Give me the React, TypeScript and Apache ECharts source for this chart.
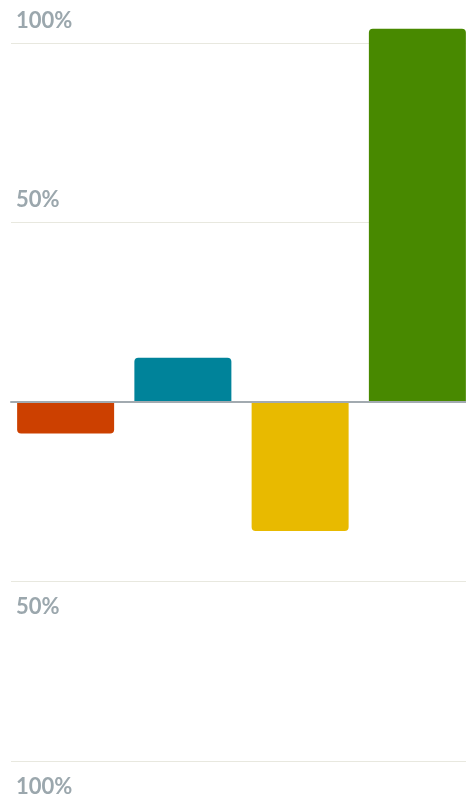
import React, { useEffect, useRef } from "react";
import * as echarts from "echarts";

const categories = ["A", "B", "C", "D"];
const values = [-8.8, 12.3, -35.9, 104];
const barColors = ["#cc4000", "#00839a", "#e8ba00", "#488900"];
const axisMin = -100;
const axisMax = 100;
const axisStep = 50;

export default function App() {
  const ref = useRef<HTMLDivElement>(null);
  useEffect(() => {
    if (!ref.current) return;
    const chart = echarts.init(ref.current, null, { renderer: "svg" });
    const labelStyle = {
      color: "#9ba7ad",
      fontFamily: "Lato",
      fontWeight: "bold" as const,
      fontSize: 22,
      inside: true,
      align: "left" as const,
      margin: 5,
    };
    chart.setOption({
      animation: false,
      grid: [
        { left: 7, width: 469, top: 43, bottom: 36, outerBoundsMode: "none" },
        { left: 11, right: 0, top: 43, bottom: 36, outerBoundsMode: "none" },
      ],
      xAxis: [
        {
          gridIndex: 0,
          type: "category",
          data: categories,
          axisLine: { show: false },
          axisTick: { show: false },
          axisLabel: { show: false },
        },
        {
          gridIndex: 1,
          type: "category",
          data: categories,
          z: 5,
          axisLine: { show: true, onZero: true, lineStyle: { color: "#a2aab0", width: 2 } },
          axisTick: { show: false },
          axisLabel: { show: false },
        },
      ],
      yAxis: [
        {
          gridIndex: 0,
          type: "value",
          min: axisMin,
          max: axisMax,
          interval: axisStep,
          show: false,
        },
        {
          gridIndex: 1,
          type: "value",
          min: axisMin,
          max: axisMax,
          interval: axisStep,
          axisLine: { show: false },
          axisTick: { show: false },
          splitLine: { show: true, lineStyle: { color: "#e8e8df", width: 1 } },
          axisLabel: {
            ...labelStyle,
            verticalAlign: "bottom",
            padding: [0, 0, 13, 0],
            formatter: (v: number) => (v > 0 ? `${Math.abs(v)}%` : ""),
          },
        },
        {
          gridIndex: 1,
          type: "value",
          position: "left",
          min: axisMin,
          max: axisMax,
          interval: axisStep,
          axisLine: { show: false },
          axisTick: { show: false },
          splitLine: { show: false },
          axisLabel: {
            ...labelStyle,
            verticalAlign: "top",
            padding: [13, 0, 0, 0],
            formatter: (v: number) => (v < 0 ? `${Math.abs(v)}%` : ""),
          },
        },
      ],
      series: [
        {
          type: "bar",
          xAxisIndex: 0,
          yAxisIndex: 0,
          barWidth: 97,
          clip: false,
          data: values.map((v, i) => ({
            value: v,
            itemStyle: {
              color: barColors[i],
              borderRadius: v >= 0 ? [4, 4, 0, 0] : [0, 0, 4, 4],
            },
          })),
        },
      ],
    });
    return () => chart.dispose();
  }, []);
  return (
    <div
      ref={ref}
      style={{ position: "fixed", left: 0, top: 0, width: 466, height: 797 }}
    />
  );
}
